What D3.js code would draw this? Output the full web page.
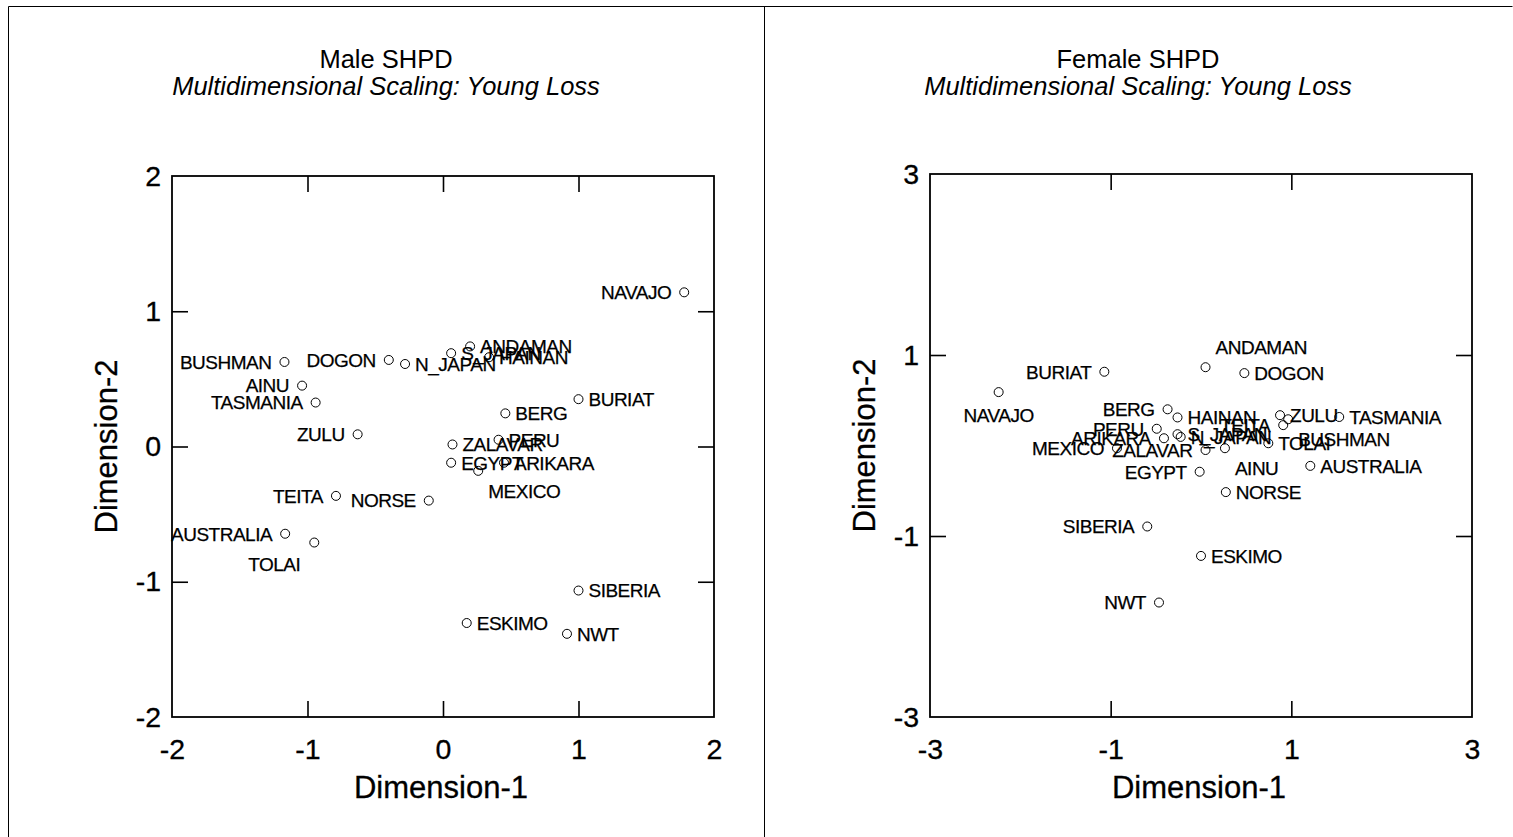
<!DOCTYPE html>
<html>
<head>
<meta charset="utf-8">
<script src="https://cdn.jsdelivr.net/npm/d3@7"></script>
<style>
  body { margin: 0; background: #fff; }
  text { font-family: "Liberation Sans", Arial, Helvetica, sans-serif; fill: #000; }
</style>
</head>
<body>
<svg id="chart" width="1513" height="837"></svg>
<script>
// ---- Male SHPD, MDS configuration (Young loss) ----
const maleNames = ["NAVAJO","BUSHMAN","DOGON","N_JAPAN","S_JAPAN","ANDAMAN","HAINAN","AINU","TASMANIA","ZULU",
                   "BERG","BURIAT","ZALAVAR","PERU","EGYPT","ARIKARA","MEXICO","TEITA","NORSE","AUSTRALIA",
                   "TOLAI","SIBERIA","ESKIMO","NWT"];
const maleDim1 = [1.78,-1.17,-0.40,-0.28,0.06,0.20,0.34,-1.04,-0.94,-0.63,
                  0.46,1.00,0.07,0.41,0.06,0.45,0.26,-0.79,-0.105,-1.165,
                  -0.95,1.00,0.175,0.915];
const maleDim2 = [1.14,0.625,0.64,0.61,0.69,0.74,0.66,0.45,0.325,0.09,
                  0.245,0.35,0.015,0.05,-0.12,-0.12,-0.18,-0.365,-0.40,-0.645,
                  -0.71,-1.065,-1.305,-1.385];
// label side for each point: r right, l left, br below-right, bl below-left, b below, ar above-right
const maleLabelSide = ["l","l","l","r","r","r","r","l","l","l",
                       "r","r","r","r","r","r","br","l","l","l",
                       "bl","r","r","r"];

// ---- Female SHPD, MDS configuration (Young loss) ----
const femaleNames = ["BURIAT","NAVAJO","ANDAMAN","DOGON","BERG","HAINAN","PERU","ARIKARA","MEXICO","ZALAVAR",
                     "S_JAPAN","N_JAPAN","TEITA","ZULU","TASMANIA","TOLAI","BUSHMAN","EGYPT","AINU","AUSTRALIA",
                     "NORSE","SIBERIA","ESKIMO","NWT"];
const femaleDim1 = [-1.07,-2.24,0.05,0.48,-0.37,-0.26,-0.49,-0.41,-0.93,0.05,
                    -0.26,-0.225,0.91,0.875,1.53,0.745,0.965,-0.015,0.265,1.21,
                    0.275,-0.595,0.0,-0.465];
const femaleDim2 = [0.815,0.59,0.865,0.80,0.40,0.31,0.185,0.08,-0.03,-0.05,
                    0.125,0.095,0.225,0.335,0.315,0.025,0.29,-0.29,-0.03,-0.225,
                    -0.515,-0.895,-1.22,-1.735];
const femaleLabelSide = ["l","b","ar","r","l","r","l","l","l","l",
                         "r","r","l","r","r","r","br","l","br","r",
                         "r","l","r","l"];

// ---- axis ticks ----
const maleTicks = [-2,-1,0,1,2];
const femaleTicks = [-3,-1,1,3];

const svg = d3.select("#chart");

// outer frame with divider between the two panels
const frame = svg.append("g").attr("stroke", "#000").attr("stroke-width", 1);
frame.append("line").attr("x1", 8.5).attr("y1", 6.5).attr("x2", 1512.5).attr("y2", 6.5);
frame.append("line").attr("x1", 8.5).attr("y1", 6.5).attr("x2", 8.5).attr("y2", 837);
frame.append("line").attr("x1", 764.5).attr("y1", 6.5).attr("x2", 764.5).attr("y2", 837);

function panel(cfg) {
  const { names, d1, d2, sides, ticks, domain, box, title, cx } = cfg;
  const x = d3.scaleLinear().domain(domain).range([box.x0, box.x1]);
  const y = d3.scaleLinear().domain(domain).range([box.y1, box.y0]);
  const g = svg.append("g");
  const inner = ticks.filter(t => t !== domain[0] && t !== domain[1]);
  const tickLen = 16;

  // titles
  g.append("text").attr("x", cx).attr("y", 68).attr("text-anchor", "middle")
    .attr("font-size", 25.5).text(title);
  g.append("text").attr("x", cx).attr("y", 95).attr("text-anchor", "middle")
    .attr("font-size", 25.5).attr("font-style", "italic")
    .text("Multidimensional Scaling: Young Loss");

  // bottom and left axes carry the labels; top and right only mirror the ticks
  const bottom = g.append("g").attr("transform", `translate(0,${box.y1})`)
    .call(d3.axisBottom(x).tickValues(ticks).tickSize(-tickLen).tickPadding(22).tickFormat(d => String(d)));
  const left = g.append("g").attr("transform", `translate(${box.x0},0)`)
    .call(d3.axisLeft(y).tickValues(ticks).tickSize(-tickLen).tickPadding(11).tickFormat(d => String(d)));
  const top = g.append("g").attr("transform", `translate(0,${box.y0})`)
    .call(d3.axisTop(x).tickValues(inner).tickSize(-tickLen).tickFormat(""));
  const right = g.append("g").attr("transform", `translate(${box.x1},0)`)
    .call(d3.axisRight(y).tickValues(inner).tickSize(-tickLen).tickFormat(""));

  [bottom, left, top, right].forEach(a => {
    a.select(".domain").remove();
    a.selectAll(".tick line").attr("stroke", "#000").attr("stroke-width", 1.6);
    a.selectAll(".tick").filter(d => d === domain[0] || d === domain[1]).select("line").remove();
    a.selectAll(".tick text").attr("font-size", 28.5).attr("font-family", null).attr("fill", "#000")
      .attr("stroke", "#000").attr("stroke-width", 0.3);
  });

  // plot frame
  g.append("rect").attr("x", box.x0).attr("y", box.y0)
    .attr("width", box.x1 - box.x0).attr("height", box.y1 - box.y0)
    .attr("fill", "none").attr("stroke", "#000").attr("stroke-width", 1.8);

  // axis titles
  g.append("text").attr("x", (box.x0 + box.x1) / 2 - 2).attr("y", 798).attr("text-anchor", "middle")
    .attr("font-size", 31).attr("stroke", "#000").attr("stroke-width", 0.3).text("Dimension-1");
  g.append("text").attr("transform", `translate(${box.x0 - 55},${(box.y0 + box.y1) / 2}) rotate(-90)`)
    .attr("text-anchor", "middle").attr("font-size", 31).attr("stroke", "#000").attr("stroke-width", 0.3)
    .text("Dimension-2");

  // points and labels
  const pts = names.map((n, i) => ({ name: n, px: x(d1[i]), py: y(d2[i]), side: sides[i] }));
  g.append("g").selectAll("circle").data(pts).join("circle")
    .attr("cx", d => d.px).attr("cy", d => d.py).attr("r", 4.5)
    .attr("fill", "none").attr("stroke", "#000").attr("stroke-width", 1);

  const off = {
    r:  { dx: 10,  dy: 0,   a: "start" },
    l:  { dx: -13, dy: 0,   a: "end" },
    br: { dx: 10,  dy: 20,  a: "start" },
    bl: { dx: -14, dy: 22,  a: "end" },
    b:  { dx: 0,   dy: 23,  a: "middle" },
    ar: { dx: 10,  dy: -20, a: "start" }
  };
  g.append("g").selectAll("text").data(pts).join("text")
    .attr("x", d => d.px + off[d.side].dx)
    .attr("y", d => d.py + off[d.side].dy)
    .attr("dy", "0.36em")
    .attr("text-anchor", d => off[d.side].a)
    .attr("font-size", 19).attr("letter-spacing", -0.5)
    .attr("stroke", "#000").attr("stroke-width", 0.25)
    .text(d => d.name);
}

panel({
  names: maleNames, d1: maleDim1, d2: maleDim2, sides: maleLabelSide,
  ticks: maleTicks, domain: [-2, 2],
  box: { x0: 172, x1: 714, y0: 176, y1: 717 },
  title: "Male SHPD", cx: 386
});
panel({
  names: femaleNames, d1: femaleDim1, d2: femaleDim2, sides: femaleLabelSide,
  ticks: femaleTicks, domain: [-3, 3],
  box: { x0: 930, x1: 1472, y0: 174, y1: 717 },
  title: "Female SHPD", cx: 1138
});
</script>
</body>
</html>
